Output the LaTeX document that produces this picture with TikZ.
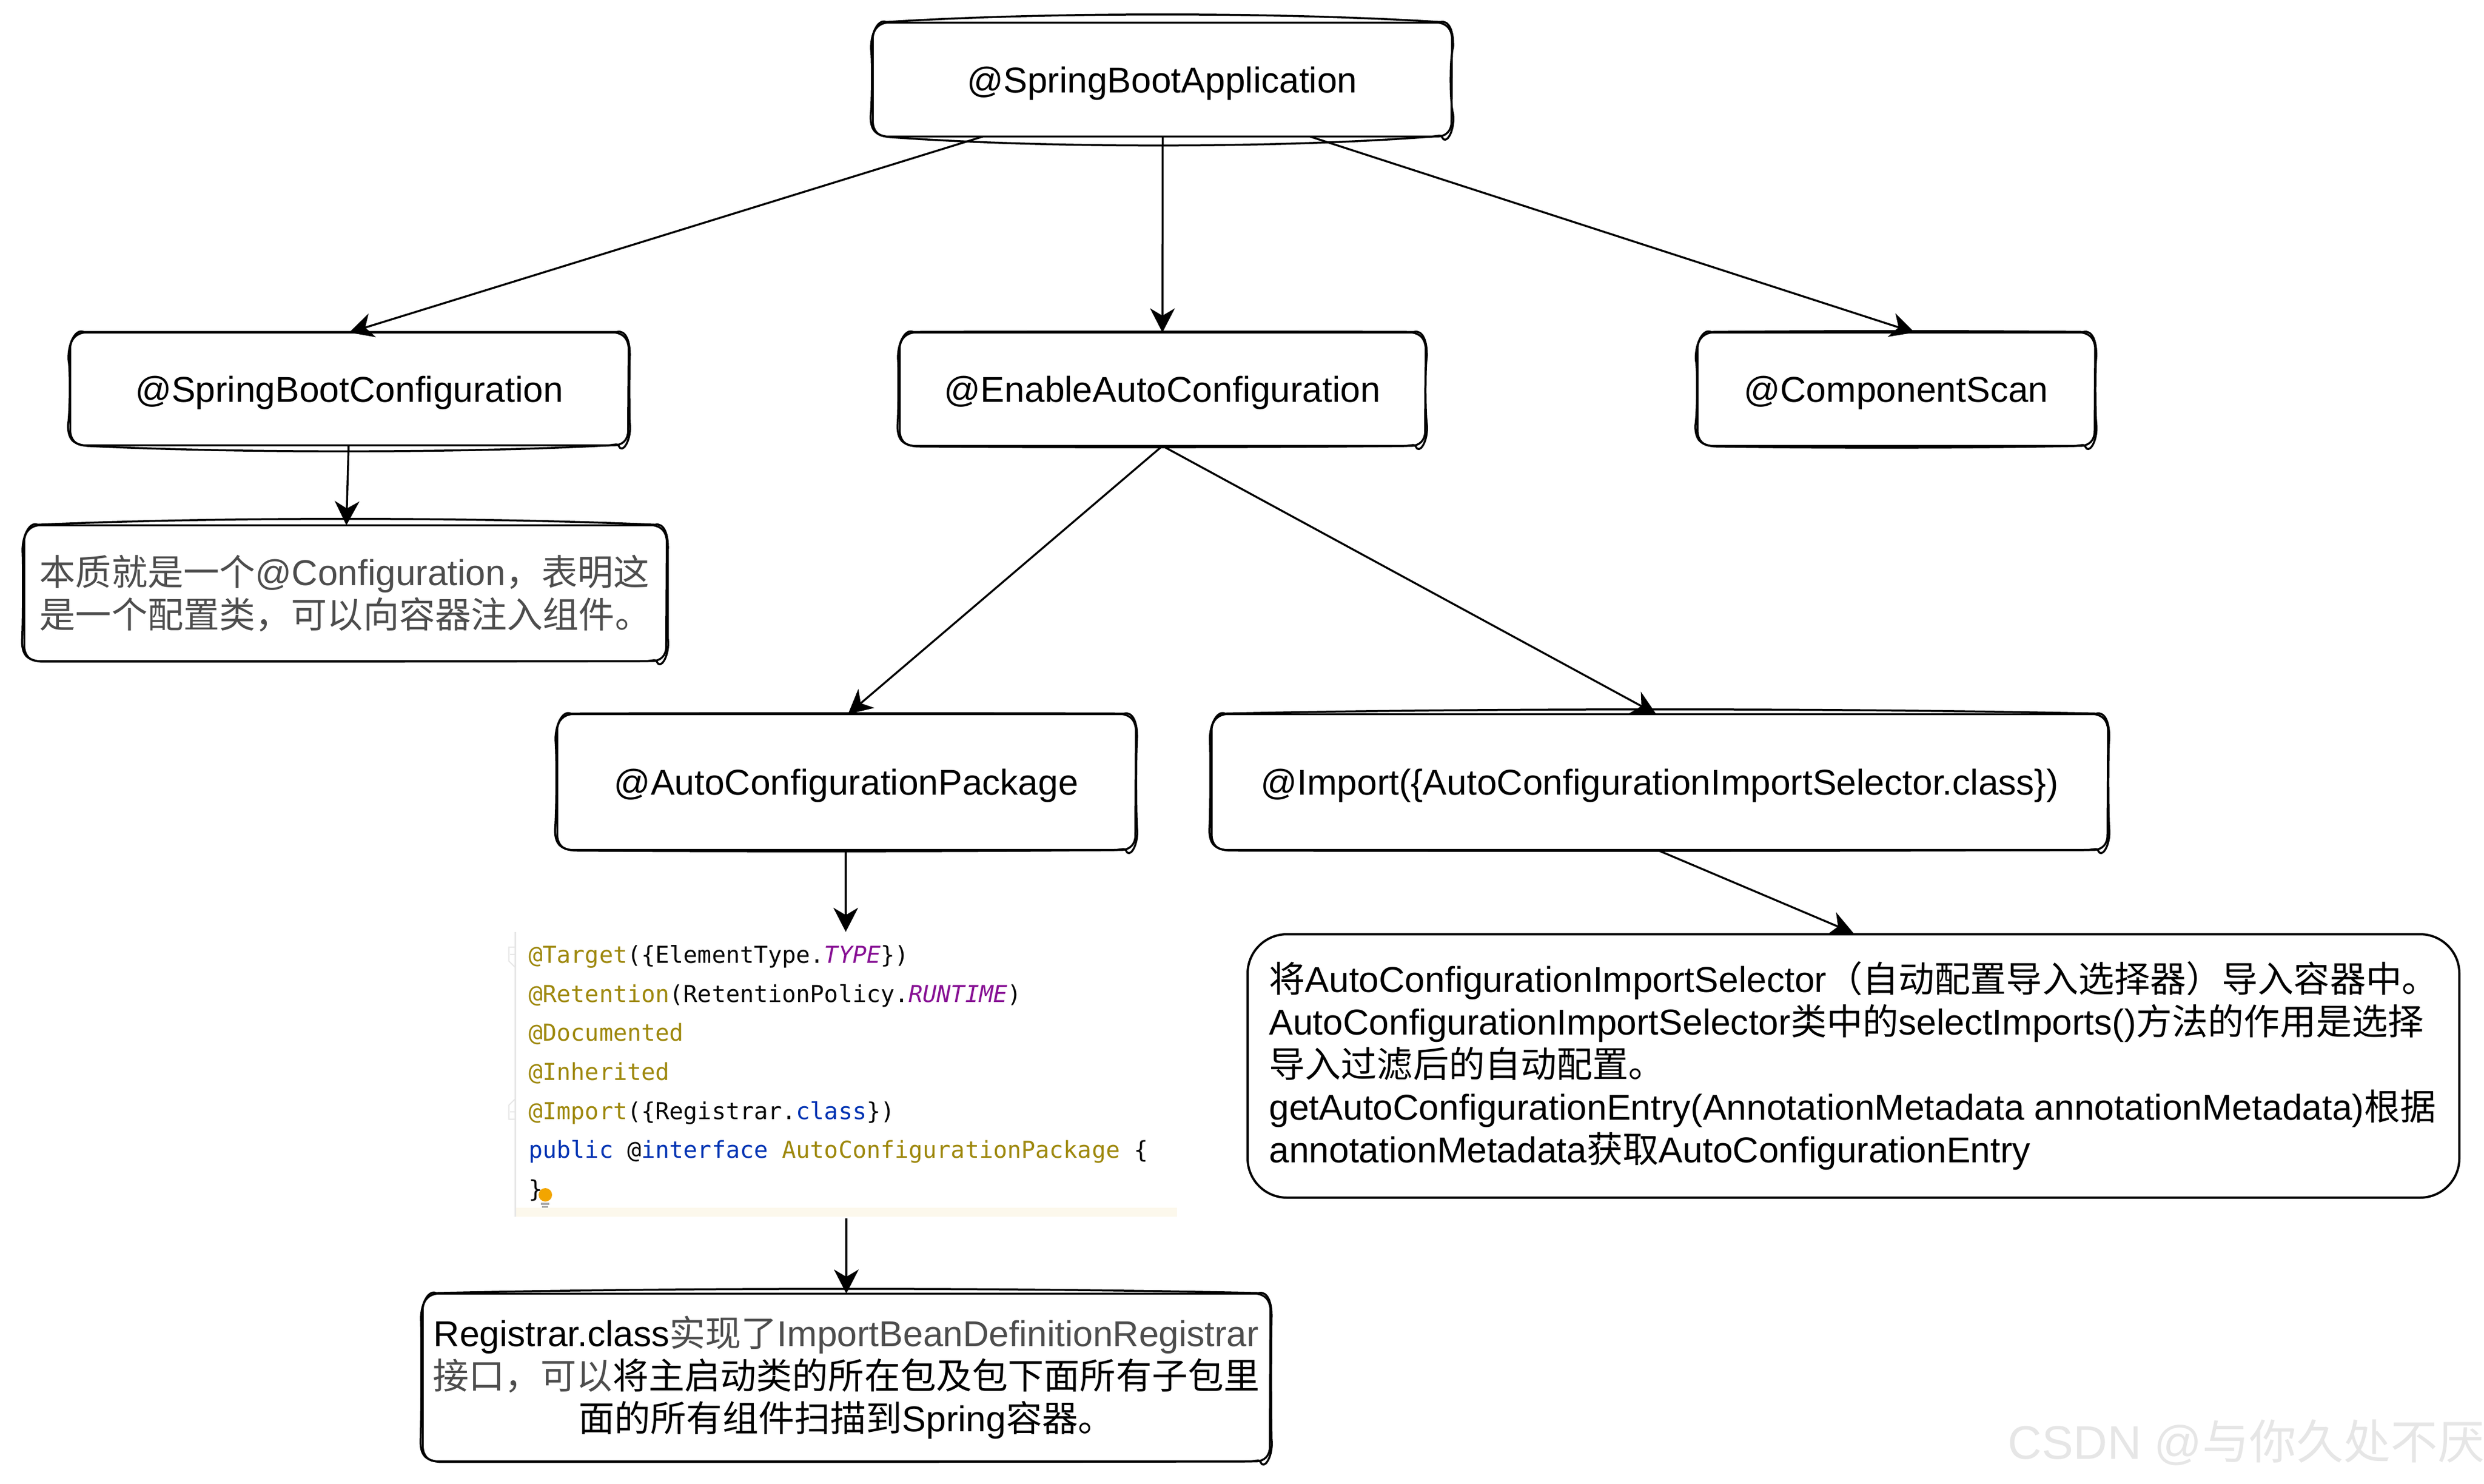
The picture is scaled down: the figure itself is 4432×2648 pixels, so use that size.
\documentclass[tikz,border=0pt]{standalone}
\usepackage{fontspec}
\setmainfont{Liberation Sans}
\setmonofont{DejaVu Sans Mono}
\newfontfamily\cjk{Noto Sans CJK SC}
\usetikzlibrary{arrows.meta,calc}
\definecolor{textgray}{HTML}{4D4D4D}
\definecolor{annocolor}{HTML}{9E880D}
\definecolor{constcolor}{HTML}{871094}
\definecolor{keycolor}{HTML}{0033B3}
\definecolor{codecolor}{HTML}{080808}
\definecolor{bandcolor}{HTML}{FCF8EC}
\definecolor{guttercolor}{HTML}{E6E6E6}
\definecolor{bulbcolor}{HTML}{F2A500}
\definecolor{markcolor}{HTML}{E6E6E6}
\newcommand{\zh}[1]{{\cjk #1}}
\newcommand{\anno}[1]{\textcolor{annocolor}{#1}}
\newcommand{\konst}[1]{\textcolor{constcolor}{\itshape #1}}
\newcommand{\kw}[1]{\textcolor{keycolor}{#1}}
\newcommand{\codesp}{\hspace*{.602em}}
\tikzset{
  flow/.style={black,line width=.35mm,-{Stealth[length=4.3mm,width=4.4mm,inset=1.3mm]}},
  sketchline/.style={black,line width=.35mm,line join=round,line cap=round},
  plainnode/.style={align=center},
  onelinenode/.style={align=center,text depth=0pt},
  leftnode/.style={align=left},
}
% node, then bow of top, bottom, left, right for the second stroke
\newcommand{\sketchbox}[5]{
\draw [sketchline] ($(#1.north west)+(28,0)$) -- ($(#1.north east)+(-24,0)$)
 .. controls ($(#1.north east)+(-8,2)$) and ($(#1.north east)+(0,12)$) .. ($(#1.north east)+(1,28)$)
 -- ($(#1.south east)+(0,-26)$)
 .. controls ($(#1.south east)+(0,-10)$) and ($(#1.south east)+(-10,0)$) .. ($(#1.south east)+(-26,0)$)
 -- ($(#1.south west)+(26,0)$)
 .. controls ($(#1.south west)+(10,0)$) and ($(#1.south west)+(0,-10)$) .. ($(#1.south west)+(0,-28)$)
 -- ($(#1.north west)+(0,28)$)
 .. controls ($(#1.north west)+(0,12)$) and ($(#1.north west)+(12,0)$) .. ($(#1.north west)+(28,0)$);
\draw [sketchline] ($(#1.north west)+(24,-1)$)
 .. controls ($(#1.north west)!.3!(#1.north east)+(0,-#2)$) and ($(#1.north west)!.7!(#1.north east)+(0,-#2)$) .. ($(#1.north east)+(-20,-1)$)
 .. controls ($(#1.north east)+(-4,-5)$) and ($(#1.north east)+(4,16)$) .. ($(#1.north east)+(3,44)$)
 .. controls ($(#1.north east)!.3!(#1.south east)+(#5,0)$) and ($(#1.north east)!.7!(#1.south east)+(#5,0)$) .. ($(#1.south east)+(3,-40)$)
 .. controls ($(#1.south east)+(6,-14)$) and ($(#1.south east)+(-6,10)$) .. ($(#1.south east)+(-14,5)$)
 .. controls ($(#1.south east)+(-20,-2)$) and ($(#1.south east)+(-14,-3)$) .. ($(#1.south east)+(-34,0)$)
 .. controls ($(#1.south west)!.7!(#1.south east)+(0,#3)$) and ($(#1.south west)!.3!(#1.south east)+(0,#3)$) .. ($(#1.south west)+(30,1)$)
 .. controls ($(#1.south west)+(10,-2)$) and ($(#1.south west)+(-4,-6)$) .. ($(#1.south west)+(-4,-36)$)
 .. controls ($(#1.north west)!.7!(#1.south west)+(-#4,0)$) and ($(#1.north west)!.3!(#1.south west)+(-#4,0)$) .. ($(#1.north west)+(-3,50)$)
 .. controls ($(#1.north west)+(-5,24)$) and ($(#1.north west)+(8,-8)$) .. ($(#1.north west)+(24,-1)$);
}
\begin{document}
\begin{tikzpicture}[x=.1mm,y=-.1mm]
\tikzstyle{every node}+=[inner sep=0pt,font=\fontsize{18.25}{21.6}\selectfont]
\useasboundingbox (0,0) rectangle (4432,2648);
% boxes
\node [onelinenode,minimum width=103.1mm,minimum height=20.2mm] (appbox) at (2073.5,142) {@SpringBootApplication};
\node [onelinenode,minimum width=99.4mm,minimum height=20mm] (sbcbox) at (623,694) {@SpringBootConfiguration};
\node [onelinenode,minimum width=93.6mm,minimum height=20.1mm] (eacbox) at (2074,694.5) {@EnableAutoConfiguration};
\node [onelinenode,minimum width=70.7mm,minimum height=20.1mm] (scanbox) at (3383,694.5) {@ComponentScan};
\node [leftnode,minimum width=114.4mm,minimum height=24.1mm,text=textgray] (notebox) at (616,1058.5) {\zh{本质就是一个}@Configuration\zh{，表明这}\\\zh{是一个配置类，可以向容器注入组件。}};
\node [onelinenode,minimum width=103mm,minimum height=24.1mm] (pkgbox) at (1510,1395.5) {@AutoConfigurationPackage};
\node [onelinenode,minimum width=159.7mm,minimum height=24.1mm] (impbox) at (2961,1395.5) {@Import(\{AutoConfigurationImportSelector.class\})};
\node [align=left,text width=113.3mm,minimum height=50.7mm,font=\fontsize{11.87}{19.83}\selectfont\ttfamily,text=codecolor] (codebox) at (1510,1915) {\anno{@Target}(\{ElementType.\konst{TYPE}\})\\
\anno{@Retention}(RetentionPolicy.\konst{RUNTIME})\\
\anno{@Documented}\\
\anno{@Inherited}\\
\anno{@Import}(\{Registrar.\kw{class}\})\\
\kw{public}\codesp @\kw{interface}\codesp\anno{AutoConfigurationPackage}\codesp\{\\
\}};
\node [plainnode,minimum width=151mm,minimum height=29.8mm] (regbox) at (1510,2458) {Registrar.class\textcolor{textgray}{\zh{实现了}ImportBeanDefinitionRegistrar}\\\textcolor{textgray}{\zh{接口，可以}}\zh{将主启动类的所在包及包下面所有子包里}\\\zh{面的所有组件扫描到}Spring\zh{容器。}};
\node [leftnode,draw=black,line width=.4mm,rounded corners=7mm,minimum width=216.2mm,minimum height=47mm] (selbox) at (3307,1902) {\zh{将}AutoConfigurationImportSelector\zh{（自动配置导入选择器）导入容器中。}\\AutoConfigurationImportSelector\zh{类中的}selectImports()\zh{方法的作用是选择}\\\zh{导入过滤后的自动配置。}\\getAutoConfigurationEntry(AnnotationMetadata annotationMetadata)\zh{根据}\\annotationMetadata\zh{获取}AutoConfigurationEntry};
\node [anchor=base east,text=markcolor,font=\fontsize{23.9}{28}\selectfont] (markbox) at (4434,2603) {CSDN @\zh{与你久处不厌}};
% hand drawn outlines
\sketchbox{appbox}{19}{21}{1}{-3}
\sketchbox{sbcbox}{1}{14}{0}{2}
\sketchbox{eacbox}{2}{3}{2}{0}
\sketchbox{scanbox}{3}{4}{0}{1}
\sketchbox{notebox}{15}{1}{2}{3}
\sketchbox{pkgbox}{2}{3}{1}{1}
\sketchbox{impbox}{11}{2}{2}{1}
\sketchbox{regbox}{11}{1}{2}{2}
% code gutter
\fill [bandcolor] ($(codebox.south west)+(-23,-14)$) rectangle ($(codebox.south east)+(23,2)$);
\draw [guttercolor,line width=.3mm] ($(codebox.north west)+(-23,2)$) -- ($(codebox.south west)+(-23,2)$);
\draw [guttercolor,line width=.2mm] (920,1690) -- (908,1690) -- (908,1715) -- (920,1727);
\draw [guttercolor,line width=.2mm] (920,1960) -- (908,1972) -- (908,1997) -- (920,1997);
\draw [guttercolor,line width=.2mm] (910,1703) -- (920,1703);
\draw [guttercolor,line width=.2mm] (910,1984) -- (920,1984);
\fill [bulbcolor] (973,2132) circle (12);
\fill [gray!70] (965,2146) rectangle (980,2150);
\fill [gray!70] (967,2152) rectangle (978,2155);
% connectors
\draw [flow] ($(appbox.south)+(-320,0)$) -- (sbcbox.north);
\draw [flow] ($(appbox.south)+(1,0)$) -- (eacbox.north);
\draw [flow] ($(appbox.south)+(264,0)$) -- ($(scanbox.north)+(33,0)$);
\draw [flow] ($(sbcbox.south)+(-1,0)$) -- ($(notebox.north)+(2,0)$);
\draw [flow] (eacbox.south) -- ($(pkgbox.north)+(3,0)$);
\draw [flow] (eacbox.south) -- ($(impbox.north)+(-6,0)$);
\draw [flow] ($(impbox.south)+(-4,0)$) -- (selbox.north);
\draw [flow] ($(pkgbox.south)+(-1,0)$) -- ($(codebox.north)+(-1,2)$);
\draw [flow] ($(codebox.south)+(0,5)$) -- (regbox.north);
\end{tikzpicture}
\end{document}
